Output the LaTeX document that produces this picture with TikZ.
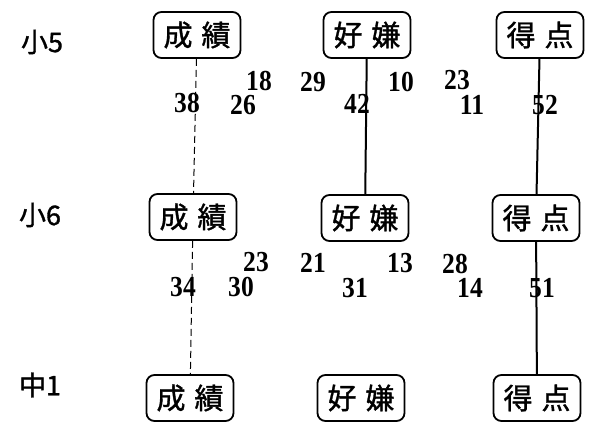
\documentclass[tikz,border=0pt]{standalone}
\usepackage{fontspec}
\setmainfont{Liberation Serif}
\newfontfamily\jp[FakeBold=1.2]{Noto Sans CJK JP}
\newfontfamily\numfont[FakeStretch=0.88]{Liberation Serif}
\begin{document}
\begin{tikzpicture}[x=1pt,y=-1pt,
  box/.style={draw,line width=1.8pt,rounded corners=8pt,minimum width=87pt,minimum height=46pt,inner sep=0pt,font=\jp\fontsize{29}{29}\selectfont},
  lbl/.style={font=\jp\fontsize{27}{27}\selectfont,inner sep=0pt},
  num/.style={font=\numfont\bfseries\fontsize{29}{29}\selectfont,inner sep=0pt},
  solidln/.style={line width=2pt},
  dashln/.style={line width=1pt,dash pattern=on 7pt off 4pt}]
\useasboundingbox (0,0) rectangle (592,422);
% row labels
\node[lbl] (r1) at (42,42) {小5};
\node[lbl] (r2) at (40,215) {小6};
\node[lbl] (r3) at (40,385) {中1};
% boxes
\node[box] (a1) at (197,35) {成\hspace{9pt}績};
\node[box] (b1) at (367,35) {好\hspace{9pt}嫌};
\node[box] (c1) at (540,35) {得\hspace{9pt}点};
\node[box] (a2) at (193,217) {成\hspace{9pt}績};
\node[box] (b2) at (365,218) {好\hspace{9pt}嫌};
\node[box] (c2) at (536,218) {得\hspace{9pt}点};
\node[box] (a3) at (190,398) {成\hspace{9pt}績};
\node[box] (b3) at (361,398) {好\hspace{9pt}嫌};
\node[box] (c3) at (537,398) {得\hspace{9pt}点};
% connectors
\draw[dashln] (a1) -- (a2);
\draw[dashln] (a2) -- (a3);
\draw[solidln] (b1) -- (b2);
\draw[solidln] (c1) -- (c2);
\draw[solidln] (c2) -- (c3);
% numbers, gap 1
\node[num] (n38) at (187,103) {38};
\node[num] (n26) at (243,105) {26};
\node[num] (n18) at (259,81) {18};
\node[num] (n29) at (313,82) {29};
\node[num] (n42) at (357,104) {42};
\node[num] (n10) at (401,82) {10};
\node[num] (n23a) at (457,80) {23};
\node[num] (n11) at (472,105) {11};
\node[num] (n52) at (545,105) {52};
% numbers, gap 2
\node[num] (n23b) at (256,262) {23};
\node[num] (n34) at (183,287) {34};
\node[num] (n30) at (241,287) {30};
\node[num] (n21) at (313,263) {21};
\node[num] (n31) at (355,288) {31};
\node[num] (n13) at (400,263) {13};
\node[num] (n28) at (455,264) {28};
\node[num] (n14) at (470,288) {14};
\node[num] (n51) at (542,288) {51};
\end{tikzpicture}
\end{document}
